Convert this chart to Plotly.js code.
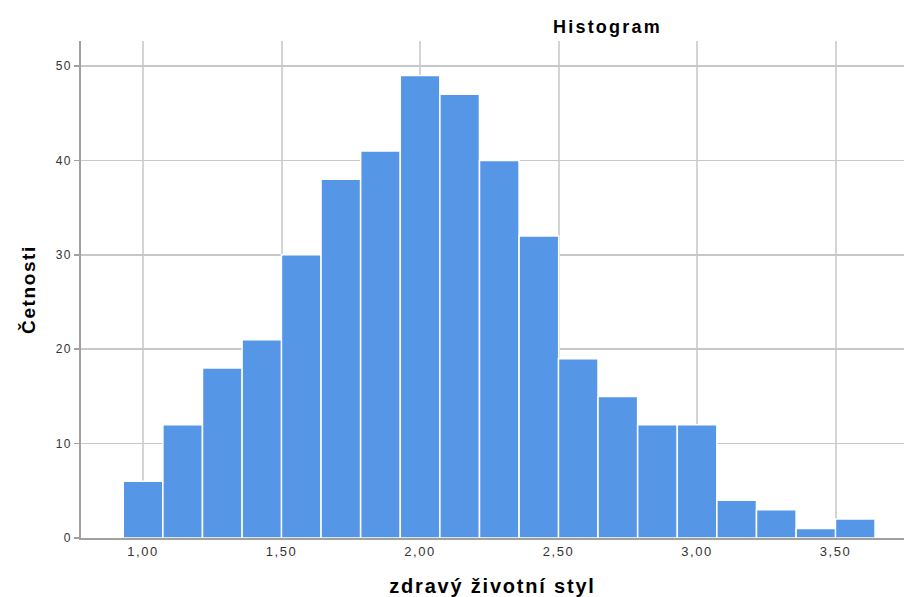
<!DOCTYPE html>
<html>
<head>
<meta charset="utf-8">
<script src="https://cdn.plot.ly/plotly-3.0.1.min.js"></script>
<style>
html,body{margin:0;padding:0;background:#fff;}
#chart{width:904px;height:597px;}
#chart .xtick text{letter-spacing:1.6px;}
#chart .ytick text{letter-spacing:1.2px;}
#chart .gtitle{letter-spacing:2.2px;}
#chart .xtitle{letter-spacing:1.8px;}
#chart .ytitle{letter-spacing:1.6px;}
</style>
</head>
<body>
<div id="chart"></div>
<script>
const binCenters = [1.000, 1.143, 1.286, 1.429, 1.571, 1.714, 1.857, 2.000, 2.143, 2.286, 2.429, 2.571, 2.714, 2.857, 3.000, 3.143, 3.286, 3.429, 3.571];
const counts = [6, 12, 18, 21, 30, 38, 41, 49, 47, 40, 32, 19, 15, 12, 12, 4, 3, 1, 2];
const xTickVals = [1.0, 1.5, 2.0, 2.5, 3.0, 3.5];
const xTickText = ["1,00", "1,50", "2,00", "2,50", "3,00", "3,50"];
const yTickVals = [0, 10, 20, 30, 40, 50];

const trace = {
  type: 'bar',
  x: binCenters,
  y: counts,
  width: 0.142857,
  marker: {color: '#5596e6', line: {color: '#ffffff', width: 1.5}},
  hoverinfo: 'x+y'
};

const layout = {
  width: 904, height: 597,
  margin: {l: 81, r: 0, t: 41, b: 59},
  paper_bgcolor: '#ffffff', plot_bgcolor: '#ffffff',
  showlegend: false,
  bargap: 0,
  font: {family: 'Liberation Sans, Arial, sans-serif', color: '#333333', size: 12},
  title: {text: 'Histogram', font: {family: 'Liberation Sans, Arial, sans-serif', size: 18, color: '#000000', weight: 'bold'}, x: 0.672, xanchor: 'center', y: 0.955, yanchor: 'middle'},
  xaxis: {
    range: [0.776, 3.747],
    tickvals: xTickVals, ticktext: xTickText,
    showgrid: true, gridcolor: '#d4d4d4', gridwidth: 2,
    showline: true, linecolor: '#a0a0a0', linewidth: 2,
    ticks: '', zeroline: false,
    tickfont: {size: 13, color: '#333333'},
    title: {text: 'zdravý životní styl', font: {size: 20, color: '#000000', weight: 'bold'}, standoff: 24}
  },
  yaxis: {
    range: [0, 52.65],
    tickvals: yTickVals,
    showgrid: true, gridcolor: '#c8c8c8', gridwidth: 1.5,
    showline: true, linecolor: '#a0a0a0', linewidth: 2,
    ticks: 'outside', ticklen: 5, tickcolor: '#a0a0a0', tickwidth: 1.5,
    zeroline: false,
    tickfont: {size: 12, color: '#333333'},
    title: {text: 'Četnosti', font: {size: 19, color: '#000000', weight: 'bold'}, standoff: 18}
  }
};

Plotly.newPlot('chart', [trace], layout, {displayModeBar: false, staticPlot: true});
</script>
</body>
</html>
